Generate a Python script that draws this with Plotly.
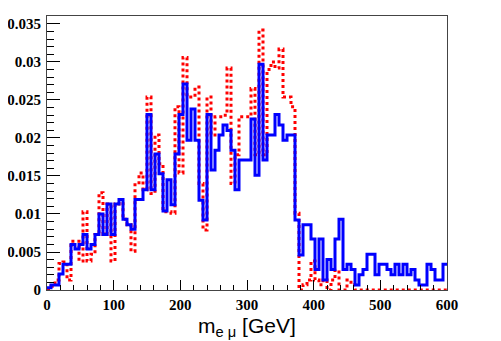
import numpy as np
import plotly.graph_objs as go

# 100 bins of 6 GeV from 0 to 600
bin_edges = np.linspace(0, 600, 101)

blue_vals = [0.0003, 0.00066, 0.00066, 0.0021, 0.0034, 0.0034, 0.006, 0.0054, 0.006, 0.0073,
             0.0054, 0.006, 0.0073, 0.01, 0.0073, 0.0113, 0.0073, 0.0113, 0.0119, 0.0093,
             0.0086, 0.008, 0.0119, 0.0119, 0.0132, 0.0231, 0.0132, 0.0179, 0.0153, 0.0104,
             0.0145, 0.0112, 0.0179, 0.0231, 0.0271, 0.0197, 0.0238, 0.0197, 0.0118, 0.0092,
             0.0231, 0.0158, 0.0184, 0.0204, 0.0217, 0.021, 0.0184, 0.0132, 0.0171, 0.0171,
             0.0171, 0.0225, 0.0151, 0.0297, 0.0171, 0.0204, 0.0204, 0.0231, 0.0217, 0.0197,
             0.0204, 0.0204, 0.0092, 0.0046, 0.0086, 0.0086, 0.0067, 0.0027, 0.0067, 0.0013,
             0.004, 0.0027, 0.0067, 0.0093, 0.0027, 0.0034, 0.0027, 0.00066, 0.002, 0.0027,
             0.0047, 0.0047, 0.002, 0.0034, 0.0034, 0.0027, 0.002, 0.0034, 0.002, 0.0034,
             0.002, 0.0027, 0.0013, 0.00066, 0.00066, 0.0034, 0.0027, 0.0013, 0.0013, 0.0034]

red_vals = [0.0002, 0.0005, 0.0013, 0.0035, 0.0037, 0.0013, 0.0064, 0.0064, 0.0038, 0.0103,
            0.0038, 0.0047, 0.0073, 0.0128, 0.0073, 0.0113, 0.0038, 0.0113, 0.0119, 0.0093,
            0.0086, 0.0051, 0.0141, 0.0154, 0.0132, 0.0254, 0.0127, 0.0204, 0.0166, 0.0103,
            0.0103, 0.0101, 0.0241, 0.0154, 0.0306, 0.0254, 0.0254, 0.0267, 0.014, 0.0079,
            0.0254, 0.0204, 0.0228, 0.0228, 0.023, 0.0292, 0.014, 0.0178, 0.0228, 0.0228,
            0.0228, 0.0265, 0.0178, 0.0342, 0.0178, 0.029, 0.03, 0.0292, 0.0317, 0.0254,
            0.0254, 0.0241, 0.0101, 0.0, 0.0007, 0.0013, 0.0038, 0.0013, 0.0007, 0.0013,
            0.0, 0.0013, 0.0026, 0.0, 0.0, 0.0013, 0.0007, 0.0, 0.0, 0.0,
            0.0, 0.0, 0.0, 0.0, 0.0, 0.0, 0.0, 0.0, 0.0, 0.0,
            0.0, 0.0, 0.0, 0.0, 0.0, 0.0, 0.0, 0.0, 0.0, 0.0]

y_ticks = [0, 0.005, 0.01, 0.015, 0.02, 0.025, 0.03, 0.035]
y_labels = ['0', '0.005', '0.01', '0.015', '0.02', '0.025', '0.03', '0.035']
x_ticks = [0, 100, 200, 300, 400, 500, 600]


def step_xy(vals):
    # outline of a histogram: one step per bin, closed at the last edge
    return list(bin_edges), list(vals) + [vals[-1]]


tick_font = dict(family='Liberation Serif', size=15, color='black', weight='bold')

fig = go.Figure()

rx, ry = step_xy(red_vals)
fig.add_trace(go.Scatter(x=rx, y=ry, mode='lines', line_shape='hv',
                         line=dict(color='#ff0000', width=3, dash='dot'), showlegend=False))
bx, by = step_xy(blue_vals)
fig.add_trace(go.Scatter(x=bx, y=by, mode='lines', line_shape='hv',
                         line=dict(color='#0000ff', width=3), showlegend=False))

# page body adds 8px around the figure, so the figure is 8px smaller
fig.update_layout(width=493, height=333, margin=dict(l=39, r=54, t=8, b=51, autoexpand=False),
                  plot_bgcolor='white', paper_bgcolor='white')

fig.update_xaxes(range=[0, 600], tickvals=x_ticks, ticks='inside', ticklen=10, tickcolor='black',
                 minor=dict(dtick=20, ticks='inside', ticklen=5, tickcolor='black'),
                 showline=True, linecolor='#444', linewidth=1, mirror=True, showgrid=False,
                 zeroline=False, tickfont=tick_font, automargin=False, ticklabelstandoff=1)
fig.update_yaxes(range=[0, 0.03605], tickvals=y_ticks, ticktext=y_labels, ticks='inside', ticklen=13,
                 tickcolor='black', minor=dict(dtick=0.001, ticks='inside', ticklen=7, tickcolor='black'),
                 showline=True, linecolor='#444', linewidth=1, mirror=True, showgrid=False,
                 zeroline=False, tickfont=tick_font, ticklabelstandoff=2, automargin=False)

# axis title placed by hand, centred below the x axis
fig.add_annotation(text='m<sub>e μ</sub> [GeV]', xref='paper', yref='paper', x=0.5, y=-0.08,
                   xanchor='center', yanchor='top', showarrow=False,
                   font=dict(family='Liberation Sans', size=21, color='black'))

fig.write_html("out.html")
